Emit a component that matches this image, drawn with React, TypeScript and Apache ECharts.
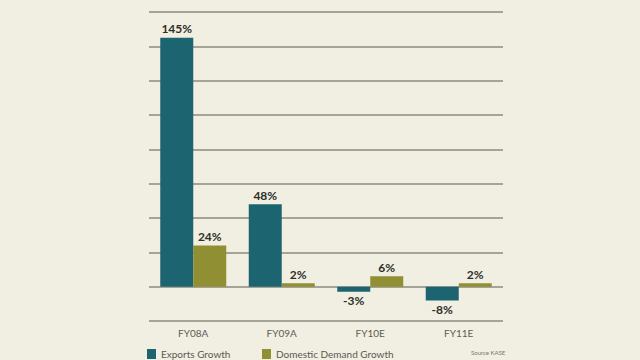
import React, { useEffect, useRef } from "react";
import * as echarts from "echarts";

const categories = ["FY08A", "FY09A", "FY10E", "FY11E"];
const exportsGrowth = [145, 48, -3, -8];
const domesticGrowth = [24, 2, 6, 2];
const yMin = -20;
const yMax = 160;
const yInterval = 20;

export default function App() {
  const ref = useRef<HTMLDivElement>(null);
  useEffect(() => {
    const chart = echarts.init(ref.current!, null, { renderer: "svg" });
    const label = {
      show: true,
      formatter: (p: any) => `${p.value}%`,
      fontFamily: "Lato",
      fontWeight: "bold",
      fontSize: 12,
      color: "#2e2e2a",
      distance: 3,
    };
    chart.setOption({
      animation: false,
      backgroundColor: "#f1eee2",
      grid: { left: 149, right: 137, top: 12, bottom: 39 },
      legend: [
        {
          data: ["Exports Growth"],
          left: 142,
          top: 344,
          itemWidth: 9,
          itemHeight: 10,
          itemGap: 4,
          icon: "rect",
          textStyle: { fontFamily: "Lato", fontSize: 10, color: "#5a5a52" },
        },
        {
          data: ["Domestic Demand Growth"],
          left: 257,
          top: 344,
          itemWidth: 9,
          itemHeight: 10,
          icon: "rect",
          textStyle: { fontFamily: "Lato", fontSize: 10, color: "#5a5a52" },
        },
      ],
      graphic: [
        {
          type: "text",
          left: 471,
          top: 349,
          style: { text: "Source KASE", fontFamily: "Lato", fontSize: 6, fill: "#77766c" },
        },
      ],
      xAxis: {
        type: "category",
        data: categories,
        position: "bottom",
        axisLine: { show: false },
        axisTick: { show: false },
        axisLabel: { fontFamily: "Lato", fontSize: 10, color: "#5e5d55", margin: 7 },
      },
      yAxis: {
        type: "value",
        min: yMin,
        max: yMax,
        interval: yInterval,
        axisLabel: { show: false },
        axisLine: { show: false },
        axisTick: { show: false },
        splitLine: { lineStyle: { color: "#8d8a7e", width: 1.5 } },
      },
      series: [
        {
          name: "Exports Growth",
          type: "bar",
          data: exportsGrowth.map((v) => ({
            value: v,
            label: { position: v < 0 ? "bottom" : "top" },
          })),
          itemStyle: { color: "#1b6470" },
          barWidth: 33,
          barGap: "0%",
          label,
        },
        {
          name: "Domestic Demand Growth",
          type: "bar",
          data: domesticGrowth.map((v) => ({
            value: v,
            label: { position: v < 0 ? "bottom" : "top" },
          })),
          itemStyle: { color: "#918f33" },
          barWidth: 33,
          barGap: "0%",
          label,
        },
      ],
    });
    return () => chart.dispose();
  }, []);
  return (
    <div
      ref={ref}
      style={{ position: "fixed", left: 0, top: 0, width: 640, height: 360 }}
    />
  );
}
